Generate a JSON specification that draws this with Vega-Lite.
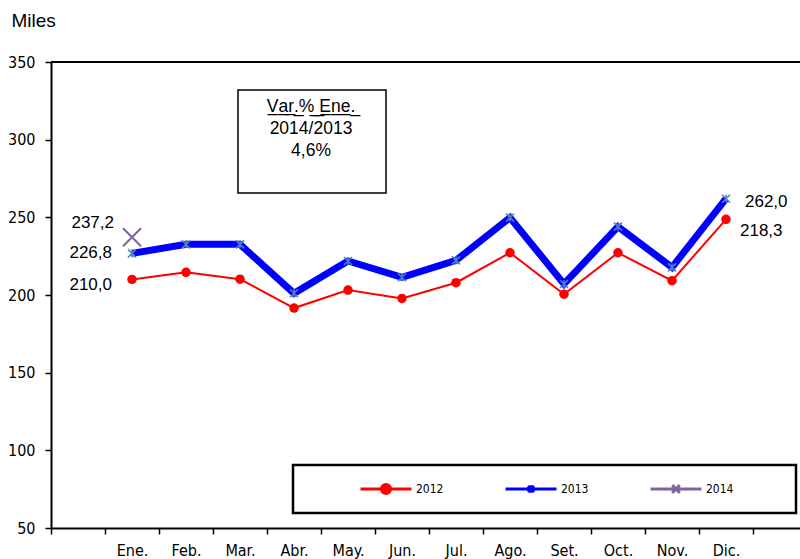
{
  "$schema": "https://vega.github.io/schema/vega-lite/v6.json",
  "autosize": "none",
  "width": 749,
  "height": 466,
  "padding": {"left": 51, "top": 62, "right": 0, "bottom": 31},
  "background": "white",
  "config": {
    "view": {"stroke": null},
    "axis": {
      "domainColor": "black", "domainWidth": 2, "tickColor": "black", "tickWidth": 1.5, "tickSize": 6,
      "labelColor": "black", "labelFont": "Liberation Sans Narrow, Arial Narrow, DejaVu Sans Condensed, sans-serif",
      "labelFontSize": 16, "grid": false
    },
    "legend": {
      "orient": "none", "legendX": 242, "legendY": 403, "direction": "horizontal",
      "strokeColor": "black", "strokeWidth": 2.5, "fillColor": "white", "padding": 16,
      "symbolSize": 2601, "symbolStrokeWidth": 3, "symbolOffset": 50, "labelOffset": 3,
      "clipHeight": 16, "columnPadding": 10,
      "labelFont": "Liberation Sans Narrow, Arial Narrow, DejaVu Sans Condensed, sans-serif",
      "labelFontSize": 12, "labelColor": "black"
    }
  },
  "data": {
    "values": [
      {"month": "Ene.", "series": "2012", "value": 210.0, "label": "210,0"},
      {"month": "Feb.", "series": "2012", "value": 214.6},
      {"month": "Mar.", "series": "2012", "value": 210.2},
      {"month": "Abr.", "series": "2012", "value": 191.6},
      {"month": "May.", "series": "2012", "value": 203.2},
      {"month": "Jun.", "series": "2012", "value": 197.8},
      {"month": "Jul.", "series": "2012", "value": 207.9},
      {"month": "Ago.", "series": "2012", "value": 227.2},
      {"month": "Set.", "series": "2012", "value": 200.5},
      {"month": "Oct.", "series": "2012", "value": 227.2},
      {"month": "Nov.", "series": "2012", "value": 209.2},
      {"month": "Dic.", "series": "2012", "value": 248.7, "label": "218,3"},
      {"month": "Ene.", "series": "2013", "value": 226.8, "label": "226,8"},
      {"month": "Feb.", "series": "2013", "value": 232.6},
      {"month": "Mar.", "series": "2013", "value": 232.6},
      {"month": "Abr.", "series": "2013", "value": 201.1},
      {"month": "May.", "series": "2013", "value": 221.9},
      {"month": "Jun.", "series": "2013", "value": 211.4},
      {"month": "Jul.", "series": "2013", "value": 222.3},
      {"month": "Ago.", "series": "2013", "value": 249.8},
      {"month": "Set.", "series": "2013", "value": 207.1},
      {"month": "Oct.", "series": "2013", "value": 244.0},
      {"month": "Nov.", "series": "2013", "value": 217.8},
      {"month": "Dic.", "series": "2013", "value": 262.0, "label": "262,0"},
      {"month": "Ene.", "series": "2014", "value": 237.2, "label": "237,2"}
    ]
  },
  "layer": [
    {
      "mark": {"type": "rule", "color": "black", "strokeWidth": 2},
      "encoding": {"y": {"datum": 350, "type": "quantitative"}}
    },
    {
      "transform": [{"filter": "datum.series == '2012'"}],
      "mark": {"type": "line", "color": "#ff0000", "strokeWidth": 2},
      "encoding": {
        "x": {"field": "month", "type": "nominal", "sort": null,
          "scale": {"type": "band", "domain": [" ", "Ene.", "Feb.", "Mar.", "Abr.", "May.", "Jun.", "Jul.", "Ago.", "Set.", "Oct.", "Nov.", "Dic.", "  "], "range": [0, 756], "paddingInner": 0, "paddingOuter": 0},
          "axis": {"title": null, "tickBand": "extent", "labelAngle": 0, "labelPadding": 8, "labelBaseline": "top"}},
        "y": {"field": "value", "type": "quantitative", "title": "Miles",
          "scale": {"domain": [50, 350], "nice": false, "zero": false},
          "axis": {"values": [50, 100, 150, 200, 250, 300, 350], "titleAngle": 0, "titleAlign": "left", "titleBaseline": "alphabetic",
            "titleX": -40, "titleY": -36, "titleFont": "Liberation Sans", "titleFontSize": 19, "titleFontWeight": "normal", "titleColor": "black", "labelPadding": 10}}
      }
    },
    {
      "transform": [{"filter": "datum.series == '2013'"}],
      "mark": {"type": "line", "color": "#0000ff", "strokeWidth": 7},
      "encoding": {
        "x": {"field": "month", "type": "nominal", "sort": null},
        "y": {"field": "value", "type": "quantitative", "title": "Miles"}
      }
    },
    {
      "transform": [{"filter": "datum.series == '2012'"}],
      "mark": {"type": "circle", "color": "#ff0000", "opacity": 1, "size": 90},
      "encoding": {
        "x": {"field": "month", "type": "nominal", "sort": null},
        "y": {"field": "value", "type": "quantitative", "title": "Miles"}
      }
    },
    {
      "transform": [{"filter": "datum.series == '2013'"}],
      "mark": {"type": "point", "shape": "M-1,-1L1,1M-1,1L1,-1M0,-1V1", "filled": false, "stroke": "#4f81bd", "strokeWidth": 1.5, "size": 64, "opacity": 1},
      "encoding": {
        "x": {"field": "month", "type": "nominal", "sort": null},
        "y": {"field": "value", "type": "quantitative", "title": "Miles"}
      }
    },
    {
      "transform": [{"filter": "datum.series == '2014'"}],
      "mark": {"type": "point", "shape": "M-1,-1L1,1M-1,1L1,-1", "filled": false, "stroke": "#8064a2", "strokeWidth": 2, "size": 324, "opacity": 1},
      "encoding": {
        "x": {"field": "month", "type": "nominal", "sort": null},
        "y": {"field": "value", "type": "quantitative", "title": "Miles"}
      }
    },
    {
      "transform": [{"filter": "false"}],
      "mark": {"type": "point", "filled": true, "opacity": 1},
      "encoding": {
        "x": {"field": "month", "type": "nominal", "sort": null},
        "y": {"field": "value", "type": "quantitative", "title": "Miles"},
        "fill": {"field": "series", "type": "nominal", "title": null,
          "scale": {"domain": ["2012", "2013", "2014"], "range": ["#ff0000", "#0000ff", "#8064a2"]},
          "legend": {"labelExpr": "datum.label == '2014' ? datum.label + '           \u2800' : datum.label"}},
        "stroke": {"field": "series", "type": "nominal", "title": null,
          "scale": {"domain": ["2012", "2013", "2014"], "range": ["#ff0000", "#0000ff", "#8064a2"]},
          "legend": {"labelExpr": "datum.label == '2014' ? datum.label + '           \u2800' : datum.label"}},
        "shape": {"field": "series", "type": "nominal", "title": null,
          "scale": {"domain": ["2012", "2013", "2014"], "range": [
            "M-1,0H1M-0.18,0A0.18,0.18,0,1,0,0.18,0A0.18,0.18,0,1,0,-0.18,0Z",
            "M-1,0H1M-0.12,-0.12L0.12,0.12M-0.12,0.12L0.12,-0.12M0,-0.15V0.15",
            "M-1,0H1M-0.15,-0.15L0.15,0.15M-0.15,0.15L0.15,-0.15"]},
          "legend": {"labelExpr": "datum.label == '2014' ? datum.label + '           \u2800' : datum.label"}}
      }
    },
    {
      "transform": [{"filter": "datum.series == '2014' && datum.month == 'Ene.'"}],
      "mark": {"type": "text", "align": "right", "baseline": "middle", "dx": -18, "dy": -14, "font": "Liberation Sans", "fontSize": 17, "color": "black"},
      "encoding": {
        "x": {"field": "month", "type": "nominal", "sort": null},
        "y": {"field": "value", "type": "quantitative", "title": "Miles"},
        "text": {"field": "label"}
      }
    },
    {
      "transform": [{"filter": "datum.series == '2013' && datum.month == 'Ene.'"}],
      "mark": {"type": "text", "align": "right", "baseline": "middle", "dx": -20, "dy": 0, "font": "Liberation Sans", "fontSize": 17, "color": "black"},
      "encoding": {
        "x": {"field": "month", "type": "nominal", "sort": null},
        "y": {"field": "value", "type": "quantitative", "title": "Miles"},
        "text": {"field": "label"}
      }
    },
    {
      "transform": [{"filter": "datum.series == '2012' && datum.month == 'Ene.'"}],
      "mark": {"type": "text", "align": "right", "baseline": "middle", "dx": -20, "dy": 6, "font": "Liberation Sans", "fontSize": 17, "color": "black"},
      "encoding": {
        "x": {"field": "month", "type": "nominal", "sort": null},
        "y": {"field": "value", "type": "quantitative", "title": "Miles"},
        "text": {"field": "label"}
      }
    },
    {
      "transform": [{"filter": "datum.series == '2013' && datum.month == 'Dic.'"}],
      "mark": {"type": "text", "align": "left", "baseline": "middle", "dx": 19, "dy": 3, "font": "Liberation Sans", "fontSize": 17, "color": "black"},
      "encoding": {
        "x": {"field": "month", "type": "nominal", "sort": null},
        "y": {"field": "value", "type": "quantitative", "title": "Miles"},
        "text": {"field": "label"}
      }
    },
    {
      "transform": [{"filter": "datum.series == '2012' && datum.month == 'Dic.'"}],
      "mark": {"type": "text", "align": "left", "baseline": "middle", "dx": 14, "dy": 12, "font": "Liberation Sans", "fontSize": 17, "color": "black"},
      "encoding": {
        "x": {"field": "month", "type": "nominal", "sort": null},
        "y": {"field": "value", "type": "quantitative", "title": "Miles"},
        "text": {"field": "label"}
      }
    },
    {
      "data": {"values": [{"note": "V\u0332a\u0332r\u0332.\u0332%\u0332 \u0332E\u0332n\u0332e\u0332.\u0332\n2014/2013\n4,6%"}]},
      "layer": [
        {
          "mark": {"type": "rect", "fill": "white", "stroke": "black", "strokeWidth": 1.5, "xOffset": -2, "x2Offset": -16},
          "encoding": {
            "x": {"datum": "Mar."},
            "x2": {"datum": "Jun."},
            "y": {"datum": 332, "type": "quantitative"},
            "y2": {"datum": 265.7}
          }
        },
        {
          "mark": {"type": "text", "align": "center", "baseline": "alphabetic", "lineBreak": "\n", "lineHeight": 22, "dx": 17, "font": "Liberation Sans", "fontSize": 17.5, "color": "black"},
          "encoding": {
            "x": {"datum": "Abr."},
            "y": {"datum": 318, "type": "quantitative"},
            "text": {"field": "note"}
          }
        }
      ]
    }
  ]
}
